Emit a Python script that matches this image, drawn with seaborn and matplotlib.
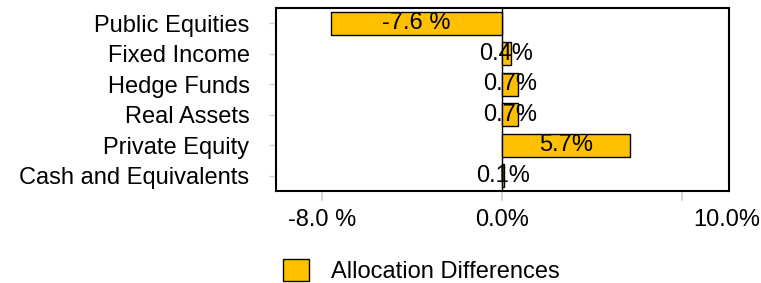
import pandas as pd
import matplotlib
matplotlib.use("Agg")
import matplotlib.pyplot as plt
import seaborn as sns
from matplotlib.patches import Patch

# data
categories = ["Public Equities", "Fixed Income", "Hedge Funds",
              "Real Assets", "Private Equity", "Cash and Equivalents"]
differences = [-7.6, 0.4, 0.7, 0.7, 5.7, 0.1]
tick_values = [-8, 0, 10]
tick_labels = ["-8.0 %", "0.0%", "10.0%"]
mark_values = [-8, 0, 8]
series_name = "Allocation Differences"

df = pd.DataFrame({"category": categories, "diff": differences})

sns.set_style("white")
plt.rcParams["font.family"] = ["Liberation Sans", "DejaVu Sans"]
fs = 17

fig = plt.figure(figsize=(7.61, 2.83), dpi=100)
ax = fig.add_axes([276 / 761, 1 - 191 / 283, (729 - 276) / 761, (191 - 8) / 283])

sns.barplot(data=df, x="diff", y="category", orient="h", color="#FFC000",
            saturation=1, edgecolor="black", linewidth=1, width=0.75, ax=ax)

ax.axvline(0, color="black", lw=1, zorder=0.5)

# value labels centred on each bar
for i, v in enumerate(differences):
    txt = f"{v:.1f} %" if v < 0 else f"{v:.1f}%"
    ax.text(v / 2, i, txt, ha="center", va="center", fontsize=fs, color="black")

ax.set_xlim(-10.05, 10.1)
ax.set_ylim(5.5, -0.5)
ax.set_xlabel("")
ax.set_ylabel("")

# tick marks on the main axis, the (misplaced) labels on a second one
ax.set_xticks(mark_values)
ax.set_xticklabels([])
ax.tick_params(axis="x", length=7, width=1.2, color="#d0d0d0",
               direction="out", bottom=True)
sec = ax.secondary_xaxis("bottom")
sec.set_xticks(tick_values)
sec.set_xticklabels(tick_labels)
sec.tick_params(axis="x", length=0, pad=13, labelsize=fs, labelcolor="black")
sec.spines["bottom"].set_visible(False)

ax.tick_params(axis="y", length=5, width=1, color="#d0d0d0", pad=14,
               labelsize=fs, labelcolor="black", left=True)

for s in ax.spines.values():
    s.set_visible(True)
    s.set_color("black")
    s.set_linewidth(1.5)

handle = Patch(facecolor="#FFC000", edgecolor="black", linewidth=1)
fig.legend([handle], [series_name], loc="center left",
           bbox_to_anchor=(274 / 761, 1 - 271 / 283), frameon=False,
           fontsize=fs, labelcolor="black", handlelength=1.1, handleheight=1.1,
           handletextpad=0.9, borderaxespad=0)

fig.savefig("out.png", dpi=100)
